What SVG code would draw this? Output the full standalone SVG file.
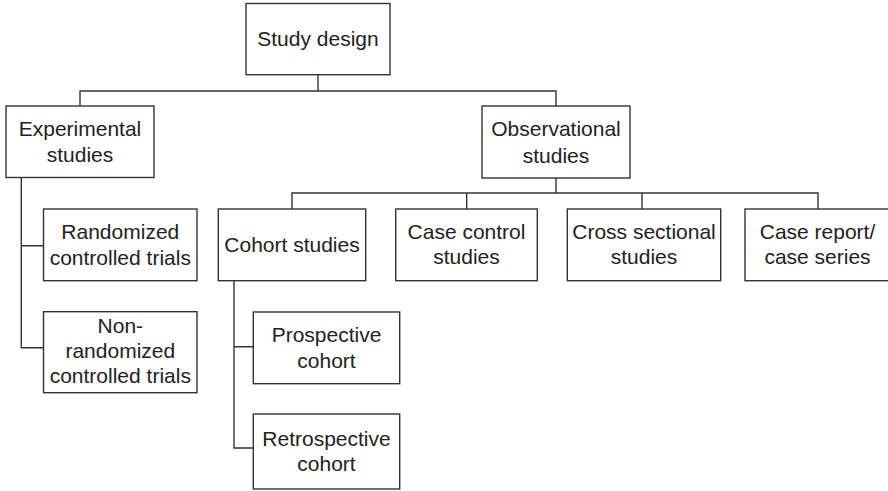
<svg xmlns="http://www.w3.org/2000/svg" width="888" height="491" viewBox="0 0 888 491">
<style>
.box{fill:#fff;stroke:#333;stroke-width:1.4}
.lbl{font-family:"Liberation Sans",Arial,sans-serif;font-size:21px;fill:#222;text-anchor:middle}
.conn{fill:none;stroke:#333;stroke-width:1.4}
</style>
<rect width="888" height="491" fill="#fff"/>
<g id="connectors">
<path class="conn" d="M318 74.7V91M80 106V91H556V106"/>
<path class="conn" d="M556 178V193M292 209V193H818V209M466.7 193V209M642 193V209"/>
<path class="conn" d="M21.3 177V347.7H43.5M21.3 245.7H43.5"/>
<path class="conn" d="M234 280.7V448H253.3M234 346.7H253.3"/>
</g>
<g id="study-design">
<rect class="box" x="246" y="3.5" width="144" height="71.2"/>
<text class="lbl" x="318" y="46.3">Study design</text>
</g>
<g id="experimental">
<rect class="box" x="6" y="106" width="148" height="71.5"/>
<text class="lbl" x="80" y="136.2">Experimental</text>
<text class="lbl" x="80" y="162.3">studies</text>
</g>
<g id="observational">
<rect class="box" x="482" y="106" width="148" height="72"/>
<text class="lbl" x="556" y="136.3">Observational</text>
<text class="lbl" x="556" y="162.5">studies</text>
</g>
<g id="rct">
<rect class="box" x="43.5" y="209" width="153.5" height="71.7"/>
<text class="lbl" x="120.3" y="239.3">Randomized</text>
<text class="lbl" x="120.3" y="265.2">controlled trials</text>
</g>
<g id="nrct">
<rect class="box" x="43.5" y="311.7" width="153.5" height="81"/>
<text class="lbl" x="120.3" y="333.3">Non-</text>
<text class="lbl" x="120.3" y="358.3">randomized</text>
<text class="lbl" x="120.3" y="383.3">controlled trials</text>
</g>
<g id="cohort">
<rect class="box" x="218.3" y="209" width="147.4" height="71.7"/>
<text class="lbl" x="292" y="252">Cohort studies</text>
</g>
<g id="case-control">
<rect class="box" x="395.7" y="209" width="141.6" height="71.7"/>
<text class="lbl" x="466.5" y="238.5">Case control</text>
<text class="lbl" x="466.5" y="264.2">studies</text>
</g>
<g id="cross-sectional">
<rect class="box" x="567.3" y="209" width="153.4" height="71.7"/>
<text class="lbl" x="644" y="238.5">Cross sectional</text>
<text class="lbl" x="644" y="264.2">studies</text>
</g>
<g id="case-report">
<rect class="box" x="745" y="209" width="145" height="71.7"/>
<text class="lbl" x="817.5" y="238.5">Case report/</text>
<text class="lbl" x="817.5" y="264.2">case series</text>
</g>
<g id="prospective">
<rect class="box" x="253.3" y="312" width="146.4" height="71.7"/>
<text class="lbl" x="326.5" y="341.8">Prospective</text>
<text class="lbl" x="326.5" y="367.7">cohort</text>
</g>
<g id="retrospective">
<rect class="box" x="253.3" y="414" width="146.4" height="75"/>
<text class="lbl" x="326.5" y="445.7">Retrospective</text>
<text class="lbl" x="326.5" y="470.5">cohort</text>
</g>
</svg>
